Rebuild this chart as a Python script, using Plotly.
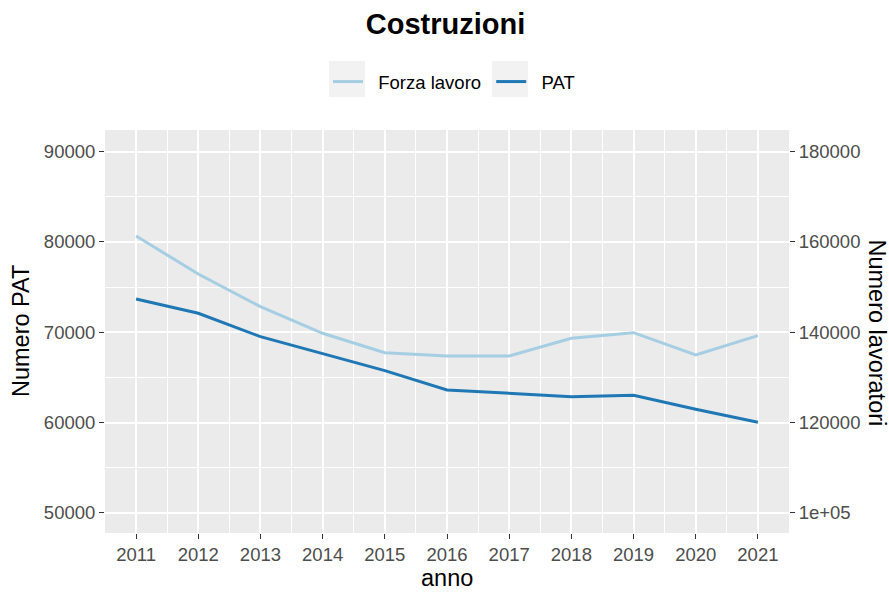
import plotly.graph_objects as go

anni = [2011, 2012, 2013, 2014, 2015, 2016, 2017, 2018, 2019, 2020, 2021]
forza_lavoro = [161330, 152900, 145670, 139780, 135480, 134750, 134750, 138670, 139910, 134970, 139250]
pat = [73690, 72100, 69510, 67600, 65750, 63610, 63250, 62870, 63020, 61470, 60030]

left_ticks = [50000, 60000, 70000, 80000, 90000]
left_labels = ["50000", "60000", "70000", "80000", "90000"]
right_ticks = [100000, 120000, 140000, 160000, 180000]
right_labels = ["1e+05", "120000", "140000", "160000", "180000"]

FONT = "Liberation Sans, Arial, sans-serif"
TICKC = "#4D4D4D"
TICK_SIZE = 18.5
AX_TITLE_SIZE = 23.5

fig = go.Figure()
fig.add_trace(go.Scatter(x=anni, y=forza_lavoro, mode="lines", name="\u00a0\u00a0Forza lavoro\u00a0",
                         line=dict(color="#A6CEE3", width=3), yaxis="y2"))
fig.add_trace(go.Scatter(x=anni, y=pat, mode="lines", name="\u00a0\u00a0PAT",
                         line=dict(color="#1F78B4", width=3), yaxis="y"))

common_tick = dict(ticks="outside", ticklen=5, tickcolor="#333333", tickwidth=1.2,
                   tickfont=dict(size=TICK_SIZE, color=TICKC, family=FONT),
                   zeroline=False, showline=False, automargin=False)

fig.update_layout(
    width=889, height=595,
    margin=dict(l=105, r=100, t=130, b=62, autoexpand=False),
    paper_bgcolor="white", plot_bgcolor="#EBEBEB",
    font=dict(family=FONT, color="black"),
    title=dict(text="<b>Costruzioni</b>", x=(362.7 + 528.3) / 2 / 889, xref="container", xanchor="center",
               y=1 - 24 / 595, yref="container", yanchor="middle",
               font=dict(size=29, family=FONT, color="black")),
    legend=dict(orientation="h", x=0.326, xanchor="left", y=1.119, yanchor="middle",
                font=dict(size=TICK_SIZE, family=FONT, color="black"), bgcolor="rgba(0,0,0,0)",
                itemwidth=30, traceorder="normal"),
    xaxis=dict(range=[2010.5, 2021.5], tickmode="array", tickvals=anni,
               ticktext=[str(a) for a in anni], showgrid=True, gridcolor="white", gridwidth=1.5,
               minor=dict(tickmode="array", tickvals=[a + 0.5 for a in anni[:-1]],
                          showgrid=True, gridcolor="white", gridwidth=0.9, ticks=""),
               **common_tick),
    yaxis=dict(range=[47770, 92400], tickmode="array", tickvals=left_ticks, ticktext=left_labels,
               showgrid=True, gridcolor="white", gridwidth=1.5,
               minor=dict(tickmode="array", tickvals=[55000, 65000, 75000, 85000],
                          showgrid=True, gridcolor="white", gridwidth=0.9, ticks=""),
               **common_tick),
    yaxis2=dict(range=[95540, 184800], overlaying="y", side="right", tickmode="array",
                tickvals=right_ticks, ticktext=right_labels, showgrid=False, **common_tick),
    annotations=[
        dict(text="Numero PAT", textangle=-90, xref="paper", yref="paper",
             x=(21 - 105) / 684, y=(533 - 331) / 403, xanchor="center", yanchor="middle",
             showarrow=False, font=dict(size=AX_TITLE_SIZE, color="black", family=FONT)),
        dict(text="Numero lavoratori", textangle=90, xref="paper", yref="paper",
             x=(876.5 - 105) / 684, y=(533 - 333) / 403, xanchor="center", yanchor="middle",
             showarrow=False, font=dict(size=AX_TITLE_SIZE, color="black", family=FONT)),
        dict(text="anno", xref="paper", yref="paper",
             x=0.5, y=(533 - 578) / 403, xanchor="center", yanchor="middle",
             showarrow=False, font=dict(size=AX_TITLE_SIZE, color="black", family=FONT)),
    ],
    shapes=[
        dict(type="rect", xref="paper", yref="paper", layer="below", line=dict(width=0),
             fillcolor="#F2F2F2", x0=(329 - 105) / 684, x1=(365 - 105) / 684,
             y0=(533 - 97) / 403, y1=(533 - 61) / 403),
        dict(type="rect", xref="paper", yref="paper", layer="below", line=dict(width=0),
             fillcolor="#F2F2F2", x0=(492 - 105) / 684, x1=(528 - 105) / 684,
             y0=(533 - 97) / 403, y1=(533 - 61) / 403),
    ],
)

fig.write_html("out.html", config={"displayModeBar": False},
               post_script="document.body.style.margin='0';document.body.style.overflow='hidden';")
